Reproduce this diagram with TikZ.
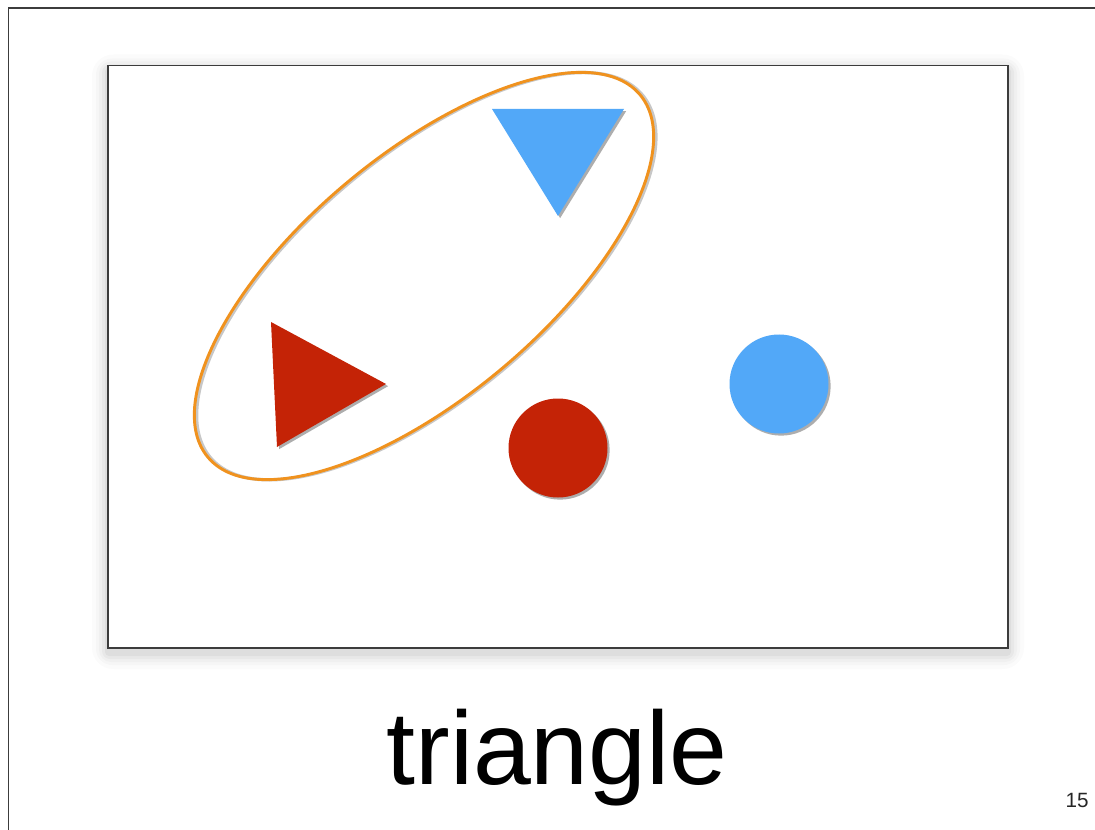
\documentclass[tikz,border=0pt]{standalone}
\usepackage{fontspec}
\setmainfont{Liberation Sans}
\usetikzlibrary{shadows}
\definecolor{shred}{HTML}{C42306}
\definecolor{shblue}{HTML}{52A8F8}
\definecolor{ringorange}{HTML}{F0921E}
\definecolor{framegray}{HTML}{3C3C3C}
\tikzset{
  shadedform/.style={draw=none, drop shadow={shadow xshift=1.6pt, shadow yshift=-1.6pt, opacity=0.4, fill=black!80}},
  redfill/.style={shadedform, fill=shred},
  bluefill/.style={shadedform, fill=shblue},
  ring/.style={draw=ringorange, line width=2.2pt},
  frameline/.style={draw=framegray, line width=1.1pt},
}
\begin{document}
\begin{tikzpicture}[x=0.75pt,y=-0.75pt]
\useasboundingbox (0,0) rectangle (1095,830);
\fill[white] (0,0) rectangle (1095,830);
% outer frame
\draw[frameline] (1096,8) -- (8.5,8) -- (8.5,831);
% soft shadow of the inner panel
\foreach \d/\o in {16/0.015,12/0.02,9/0.025,6/0.03,3/0.04}{
  \fill[black, opacity=\o, rounded corners=\d] (108-\d,65.5-\d+5) rectangle (1008+\d,648+\d+5);
}
\draw[frameline, fill=white] (108,65.5) rectangle (1008,648);
% ring
\coordinate (c) at (424,276);
\draw[black, opacity=0.22, line width=2.5pt, rotate around={40:(c)}] ([xshift=1.2pt,yshift=-1.2pt]c) ellipse [x radius=282, y radius=121];
\draw[ring, rotate around={40:(c)}] (c) ellipse [x radius=282, y radius=121];
% shapes
\path[bluefill] (492,109) -- (624,109) -- (558,216) -- cycle;
\path[redfill] (271,322) -- (386,384) -- (277,447) -- cycle;
\path[redfill] (558,448) circle [radius=49.5];
\path[bluefill] (779,384) circle [radius=49.5];
% texts
\node[anchor=base, inner sep=0pt, font=\fontsize{78}{80}\selectfont] (label) at (557,784) {triangle};
\node[anchor=base, inner sep=0pt, font=\fontsize{15.5}{17}\selectfont, text=black!85] (pagenum) at (1077,807) {15};
\end{tikzpicture}
\end{document}
